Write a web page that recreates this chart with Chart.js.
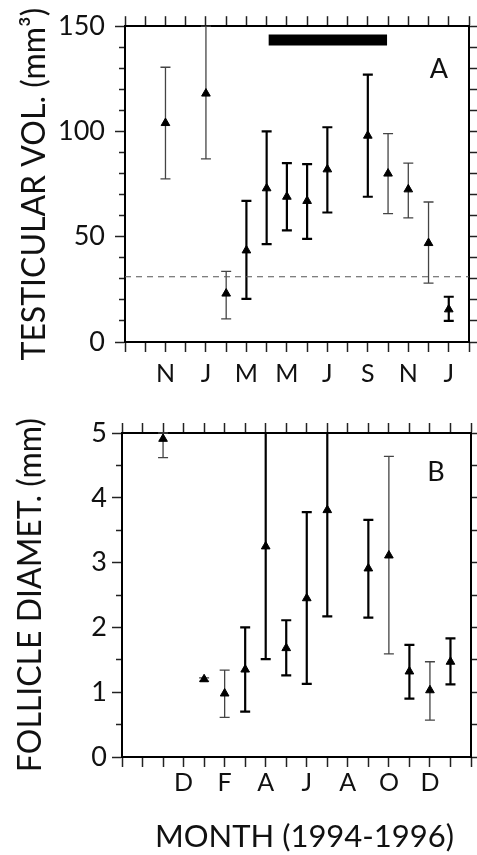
<!DOCTYPE html>
<html>
<head>
<meta charset="utf-8">
<script src="https://cdn.jsdelivr.net/npm/chart.js@4.4.1/dist/chart.umd.min.js"></script>
<style>
  body { margin: 0; background: #fff; width: 477px; height: 855px; overflow: hidden; }
  .panel { position: absolute; left: 0; width: 477px; }
</style>
</head>
<body>
<div class="panel" style="top:0"><canvas id="chartA" width="477" height="395"></canvas></div>
<div class="panel" style="top:395px"><canvas id="chartB" width="477" height="460"></canvas></div>
<script>
// one tick per month, Sep 1994 .. Feb 1996
var months = ['S', 'O', 'N', 'D', 'J', 'F', 'M', 'A', 'M', 'J', 'J', 'A', 'S', 'O', 'N', 'D', 'J', 'F'];

// panel A - testicular volume (mm3)
var monthA = [2, 4, 5, 6, 7, 8, 9, 10, 12, 13, 14, 15, 16];
var volMean = [104, 118, 23, 43.5, 73, 69, 67, 82, 98, 80, 72.5, 47, 15.5];
var volLow = [77.5, 87, 11, 20.5, 46.5, 53, 49, 61.5, 69, 61, 59, 28, 10];
var volHigh = [130.5, 150, 33.5, 67, 100, 85, 84.5, 102, 127, 99, 85, 66.5, 21.5];
var volThreshold = 31;
// breeding season bar
var seasonStart = 7.1, seasonEnd = 12.95, seasonLevel = 143.5;

// panel B - follicle diameter (mm)
var monthB = [2, 4, 5, 6, 7, 8, 9, 10, 12, 13, 14, 15, 16];
var folMean = [4.91, 1.2, 0.98, 1.35, 3.25, 1.68, 2.45, 3.81, 2.91, 3.11, 1.32, 1.03, 1.47];
var folLow = [4.62, 1.17, 0.61, 0.70, 1.51, 1.26, 1.13, 2.17, 2.15, 1.59, 0.90, 0.57, 1.12];
var folHigh = [5.0, 1.22, 1.34, 2.0, 5.4, 2.11, 3.78, 5.4, 3.66, 4.64, 1.73, 1.47, 1.83];

// which error bars are drawn heavy in the original
var heavyA = [0, 0, 0, 1, 1, 1, 1, 1, 1, 0, 0, 0, 1];
var heavyB = [0, 0, 0, 1, 1, 1, 1, 1, 1, 0, 1, 0, 1];

Chart.defaults.font.family = 'Lato, "Open Sans", sans-serif';
Chart.defaults.color = '#111';
Chart.defaults.animation = false;

var errorBars = {
    id: 'errorBars',
    beforeDatasetsDraw: function (chart, args, opts) {
        var x = chart.scales.x, y = chart.scales.y, ctx = chart.ctx, a = chart.chartArea;
        ctx.save();
        ctx.beginPath();
        ctx.rect(a.left, a.top - 1, a.right - a.left, a.bottom - a.top + 2);
        ctx.clip();
        opts.xs.forEach(function (m, i) {
            var px = x.getPixelForValue(m);
            var top = y.getPixelForValue(opts.high[i]);
            var bot = y.getPixelForValue(opts.low[i]);
            ctx.strokeStyle = opts.heavy[i] ? '#000' : '#444';
            ctx.lineWidth = opts.heavy[i] ? 2.2 : 1.3;
            ctx.beginPath();
            ctx.moveTo(px, top); ctx.lineTo(px, bot);
            ctx.moveTo(px - 5, top); ctx.lineTo(px + 5, top);
            ctx.moveTo(px - 5, bot); ctx.lineTo(px + 5, bot);
            ctx.stroke();
        });
        ctx.restore();
    }
};

var panelText = {
    id: 'panelText',
    afterDraw: function (chart, args, opts) {
        var ctx = chart.ctx, a = chart.chartArea;
        ctx.save();
        ctx.fillStyle = '#111';
        ctx.textAlign = 'center';
        ctx.textBaseline = 'middle';
        ctx.font = '27px Lato';
        ctx.fillText(opts.letter, a.right - opts.dx, a.top + opts.dy);
        if (opts.xTitle) {
            ctx.font = '31px Lato';
            ctx.fillText(opts.xTitle, (a.left + a.right) / 2 + 8, a.bottom + 80);
        }
        ctx.restore();
    }
};

function axes(o) {
    var edge = { display: true, color: '#000', width: 2 };
    var tickLine = { drawOnChartArea: false, drawTicks: true, tickLength: 10, tickColor: '#222', tickWidth: 1.5 };
    var isMajor = function (v) {
        var r = v / o.major;
        return Math.abs(r - Math.round(r)) < 1e-6;
    };
    return {
        x: {
            type: 'linear', min: 0, max: 17, position: 'bottom',
            border: edge, grid: tickLine,
            ticks: {
                stepSize: 1, autoSkip: false, maxRotation: 0, padding: o.xPad, font: { size: 25 },
                callback: function (v) { return o.showMonth(v) ? months[v] : ''; }
            },
            afterFit: function (s) { s.height = o.bottom; }
        },
        xTop: {
            type: 'linear', min: 0, max: 17, position: 'top',
            border: edge, grid: tickLine,
            ticks: { stepSize: 1, autoSkip: false, display: false },
            afterFit: function (s) { s.height = o.top; }
        },
        y: {
            type: 'linear', min: 0, max: o.yMax, position: 'left',
            border: edge,
            grid: {
                drawOnChartArea: false, tickLength: 10, tickColor: '#222', tickWidth: 1.5,
                tickBorderDash: function (c) { return isMajor(c.tick.value) ? [] : [0, 4, 20, 0]; }
            },
            ticks: {
                stepSize: o.minor, autoSkip: false, padding: o.yPad, font: { size: 27 },
                callback: function (v) { return isMajor(v) ? v : ''; }
            },
            title: {
                display: true, text: o.title, color: '#111',
                font: { size: 32, lineHeight: 1.2 }, padding: { top: o.titlePad, bottom: 0 }
            },
            afterFit: function (s) { s.width = o.left; }
        },
        yRight: {
            type: 'linear', min: 0, max: o.yMax, position: 'right',
            border: edge,
            grid: { drawOnChartArea: false, tickLength: 8, tickColor: '#222', tickWidth: 1.5 },
            ticks: { stepSize: o.minor, autoSkip: false, display: false },
            afterFit: function (s) { s.width = o.right; }
        }
    };
}

function points(xs, ys) {
    return xs.map(function (m, i) { return { x: m, y: ys[i] }; });
}

var triangle = {
    pointStyle: 'triangle', pointRadius: 5, pointHoverRadius: 5,
    backgroundColor: '#000', borderColor: '#000', borderWidth: 1
};

new Chart(document.getElementById('chartA'), {
    type: 'scatter',
    data: {
        datasets: [
            Object.assign({ data: points(monthA, volMean) }, triangle),
            {
                data: [{ x: 0, y: volThreshold }, { x: 17, y: volThreshold }],
                showLine: true, borderColor: '#555', borderWidth: 1.2, borderDash: [6, 5], pointRadius: 0
            },
            {
                data: [{ x: seasonStart, y: seasonLevel }, { x: seasonEnd, y: seasonLevel }],
                showLine: true, borderColor: '#000', borderWidth: 11, borderCapStyle: 'butt', pointRadius: 0
            }
        ]
    },
    options: {
        responsive: false,
        layout: { padding: 0 },
        scales: axes({
            top: 25, bottom: 53, left: 125, right: 8,
            yMax: 150, minor: 10, major: 50, xPad: 7, yPad: 10,
            title: 'TESTICULAR VOL. (mm³)', titlePad: 15,
            showMonth: function (v) { return v % 2 === 0 && v > 0 && v < 17; }
        }),
        plugins: {
            legend: { display: false },
            tooltip: { enabled: false },
            errorBars: { xs: monthA, low: volLow, high: volHigh, heavy: heavyA },
            panelText: { letter: 'A', dx: 30, dy: 43 }
        }
    },
    plugins: [errorBars, panelText]
});

new Chart(document.getElementById('chartB'), {
    type: 'scatter',
    data: {
        datasets: [
            Object.assign({ data: points(monthB, folMean) }, triangle)
        ]
    },
    options: {
        responsive: false,
        layout: { padding: 0 },
        scales: axes({
            top: 38, bottom: 98, left: 122, right: 5,
            yMax: 5, minor: 0.5, major: 1, xPad: 1, yPad: 5,
            title: 'FOLLICLE DIAMET. (mm)', titlePad: 11,
            showMonth: function (v) { return v % 2 === 1 && v >= 3 && v <= 15; }
        }),
        plugins: {
            legend: { display: false },
            tooltip: { enabled: false },
            errorBars: { xs: monthB, low: folLow, high: folHigh, heavy: heavyB },
            panelText: { letter: 'B', dx: 35, dy: 39, xTitle: 'MONTH (1994-1996)' }
        }
    },
    plugins: [errorBars, panelText]
});
</script>
</body>
</html>
